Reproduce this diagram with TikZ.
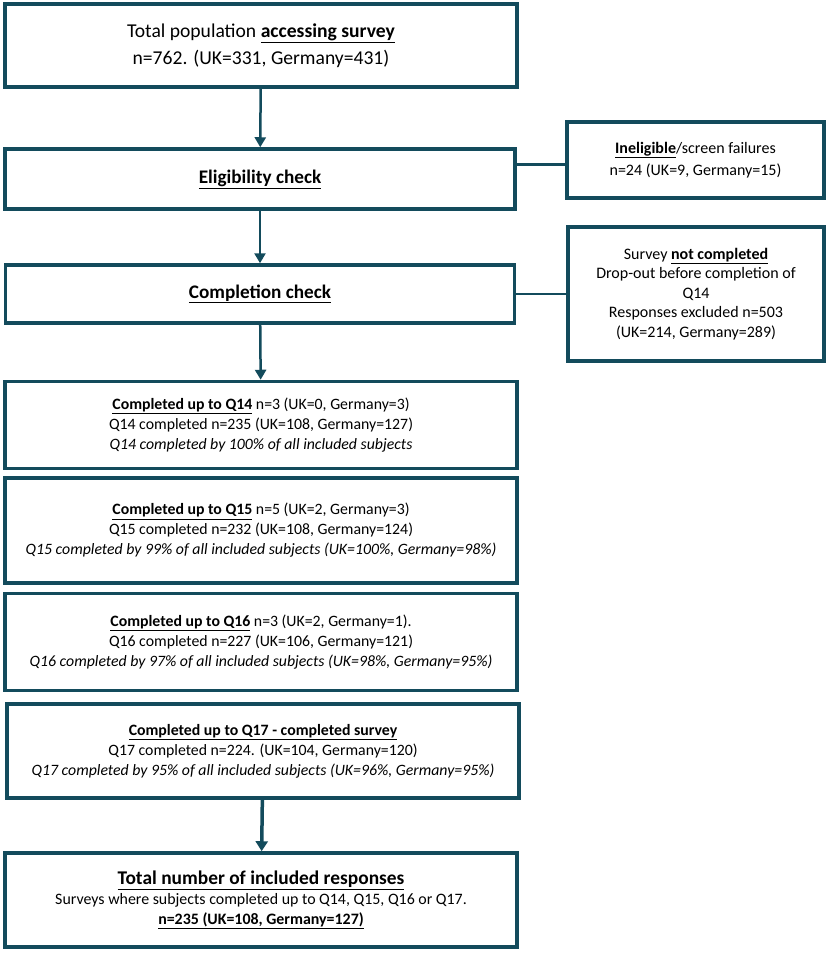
\documentclass[tikz,border=0pt]{standalone}
\usepackage{fontspec}
\setmainfont{Carlito}
\usetikzlibrary{arrows.meta,calc}
\definecolor{frame}{HTML}{134B5C}
\begin{document}
\begin{tikzpicture}[x=1pt,y=-1pt,
  box/.style={draw=frame, line width=3.5pt, fill=white, align=center, inner sep=0pt, text=black},
  sidebox/.style={box, font=\fontsize{16}{19.5}\selectfont},
  qbox/.style={box, minimum width=512pt, font=\fontsize{15.8}{20}\selectfont},
  link/.style={draw=frame, line width=2.5pt},
  arr/.style={link, -{Triangle[length=10pt,width=11pt]}},
]
\useasboundingbox (0,0) rectangle (829,953);

\node[box, minimum width=512pt, minimum height=83pt, font=\fontsize{19.6}{27.5}\selectfont] (top) at (261,45.5)
  {Total population \textbf{\underline{accessing survey}}\\ n=762. (UK=331, Germany=431)};

\node[box, minimum width=510pt, minimum height=60pt, font=\fontsize{19.2}{22}\selectfont] (elig) at (260,179)
  {\textbf{\underline{Eligibility check}}};

\node[sidebox, minimum width=257pt, minimum height=76pt, font=\fontsize{16}{21.5}\selectfont] (inel) at (695.5,160)
  {\textbf{\underline{Ineligible}}/screen failures\\ n=24 (UK=9, Germany=15)};

\node[box, minimum width=509pt, minimum height=58pt, font=\fontsize{19.2}{22}\selectfont] (comp) at (260,294)
  {\textbf{\underline{Completion check}}};

\node[sidebox, minimum width=256pt, minimum height=134pt] (notc) at (696,294)
  {Survey \textbf{\underline{not completed}}\\ Drop-out before completion of\\ Q14\\ Responses excluded n=503\\ (UK=214, Germany=289)};

\node[qbox, minimum height=87pt] (q14) at (261,425)
  {\textbf{\underline{Completed up to Q14}} n=3 (UK=0, Germany=3)\\
   Q14 completed n=235 (UK=108, Germany=127)\\
   \textit{Q14 completed by 100\% of all included subjects}};

\node[qbox, minimum height=105pt] (q15) at (261,530.5)
  {\textbf{\underline{Completed up to Q15}} n=5 (UK=2, Germany=3)\\
   Q15 completed n=232 (UK=108, Germany=124)\\
   \textit{Q15 completed by 99\% of all included subjects (UK=100\%, Germany=98\%)}};

\node[qbox, minimum height=97pt] (q16) at (261,642)
  {\textbf{\underline{Completed up to Q16}} n=3 (UK=2, Germany=1).\\
   Q16 completed n=227 (UK=106, Germany=121)\\
   \textit{Q16 completed by 97\% of all included subjects (UK=98\%, Germany=95\%)}};

\node[qbox, minimum height=94pt] (q17) at (263,751)
  {\textbf{\underline{Completed up to Q17 - completed survey}}\\
   Q17 completed n=224. (UK=104, Germany=120)\\
   \textit{Q17 completed by 95\% of all included subjects (UK=96\%, Germany=95\%)}};

\node[box, minimum width=512pt, minimum height=94pt, font=\fontsize{15.9}{20}\selectfont] (final) at (261,900)
  {{\fontsize{19.4}{22}\selectfont\textbf{\underline{Total number of included responses}}}\\
   Surveys where subjects completed up to Q14, Q15, Q16 or Q17.\\
   \textbf{\underline{n=235 (UK=108, Germany=127)}}};

\draw[arr] (top) -- (elig);
\draw[arr] (elig) -- (comp);
\draw[arr] (comp) -- (q14);
\draw[arr, line width=3.5pt, -{Triangle[length=10pt,width=12pt]}] (q17) -- (final);

\coordinate (c1) at ($(elig.north east)!0.27!(elig.south east)$);
\draw[link] (c1) -- (c1 -| inel.west);
\draw[link] (comp.east) -- (notc.west);
\end{tikzpicture}
\end{document}
